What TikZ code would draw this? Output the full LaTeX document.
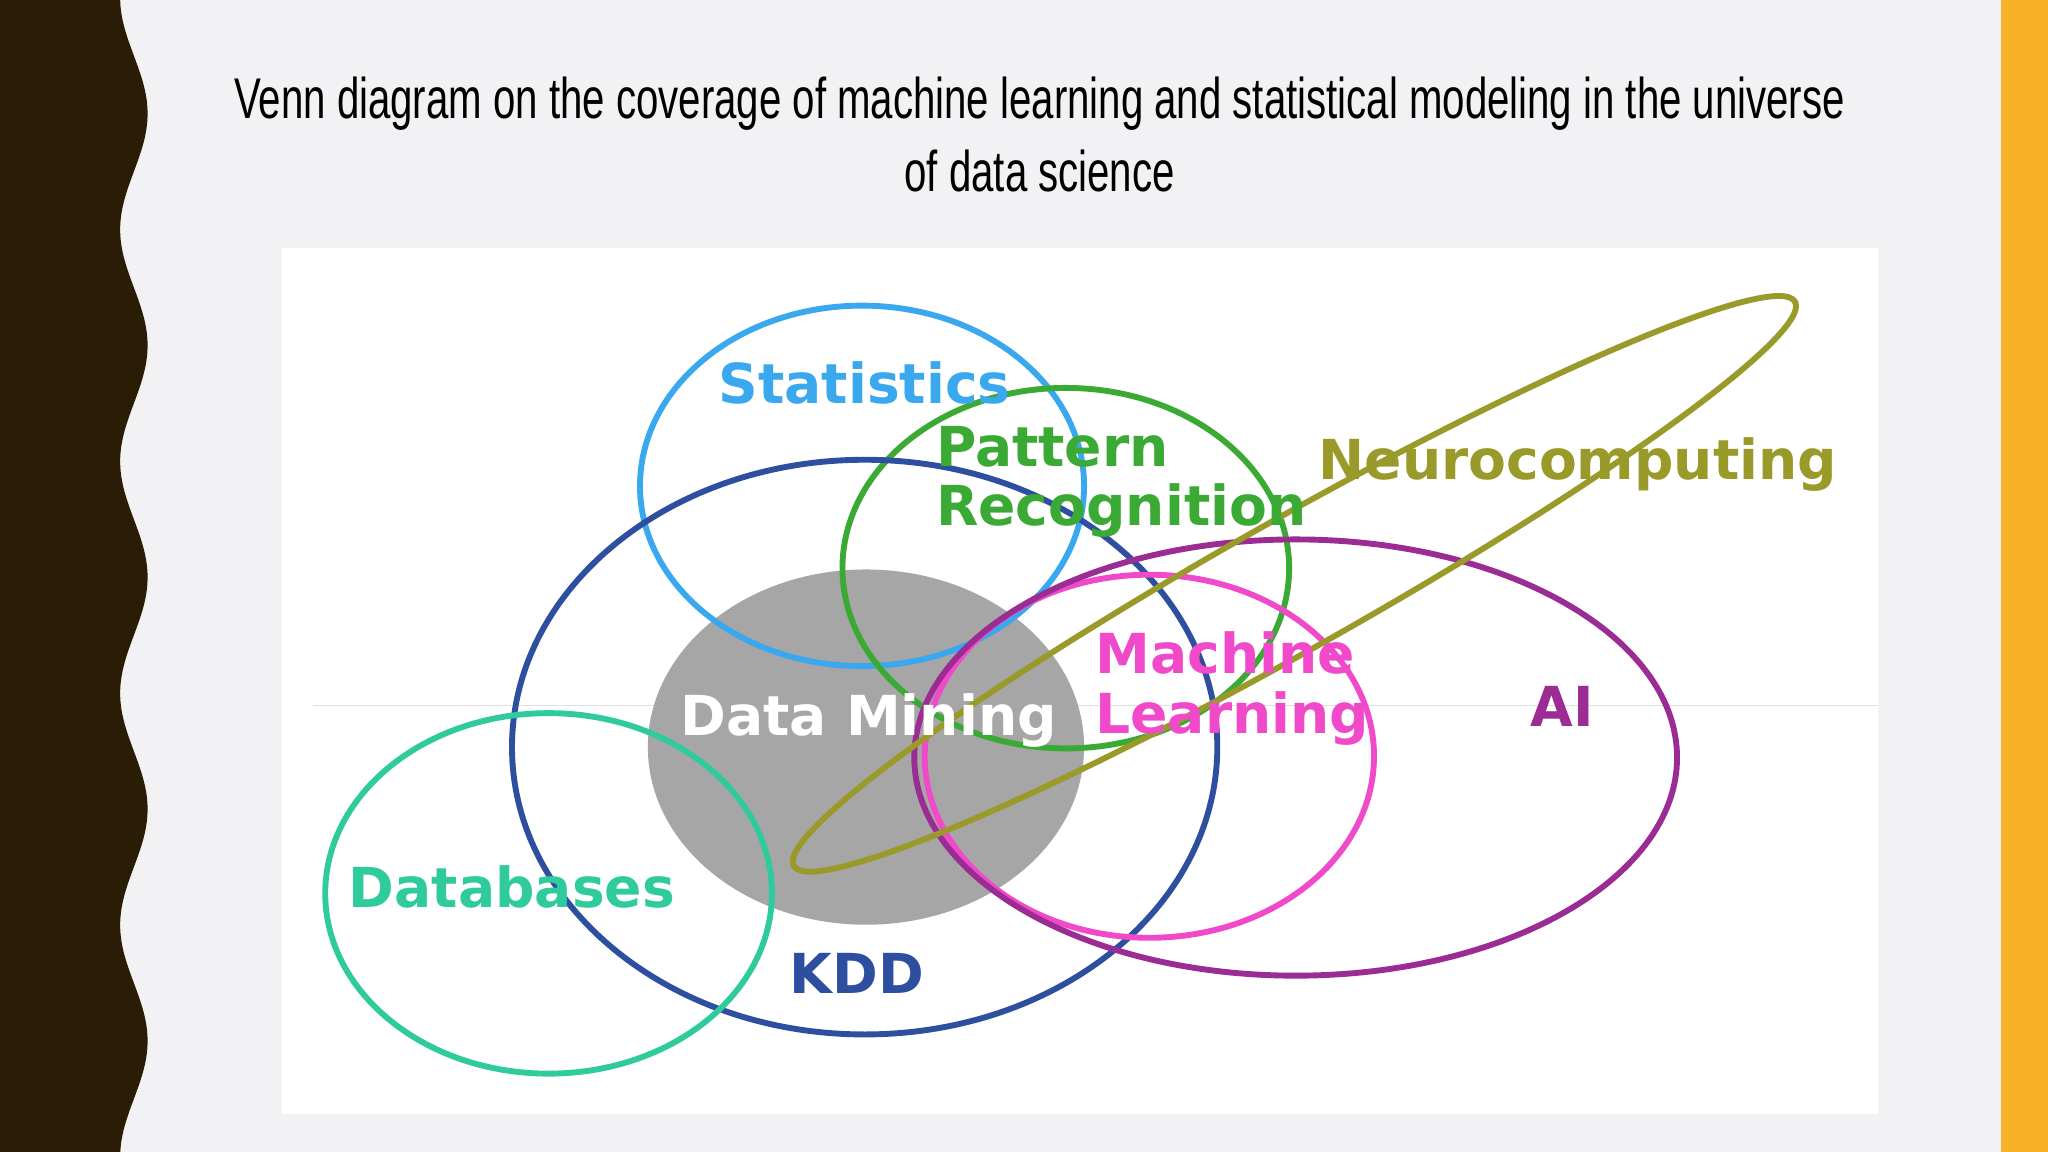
\documentclass[tikz,border=0pt]{standalone}
\usepackage{fontspec}
\setmainfont{Liberation Sans}
\newfontfamily\vfont{DejaVu Sans}
\definecolor{bg}{HTML}{F2F2F4}
\definecolor{brown}{HTML}{2B1D05}
\definecolor{orng}{HTML}{F9B128}
\definecolor{cstat}{HTML}{3AA8EE}
\definecolor{cpat}{HTML}{3AAA35}
\definecolor{ckdd}{HTML}{2E4FA0}
\definecolor{cdm}{HTML}{A6A6A6}
\definecolor{cdb}{HTML}{2FCB9D}
\definecolor{cml}{HTML}{F04ACB}
\definecolor{cai}{HTML}{9B2C93}
\definecolor{cneu}{HTML}{9A9A2A}
\tikzset{ring/.style={line width=0.045cm},
 lab/.style={font=\vfont\bfseries\fontsize{12}{13}\selectfont, inner sep=0pt}}
\begin{document}
\begin{tikzpicture}[x=0.01cm,y=-0.01cm]
\useasboundingbox (0,0) rectangle (1568,882);
\fill[bg] (0,0) rectangle (1568,882);
\fill[brown] (0,0) -- plot[domain=0:882,samples=200,smooth] ({102.5+10.5*cos(2.0282*(\x-87))},\x) -- (0,882) -- cycle;
\fill[orng] (1532,0) rectangle (1568,882);
\node[font=\fontsize{12.5}{16}\selectfont, align=center, xscale=0.7] (title) at (796,103) {Venn diagram on the coverage of machine learning and statistical modeling in the universe\\of data science};
\fill[white] (216,190) rectangle (1438,853);
\draw[black!12, line width=0.3pt] (240,540) -- (1438,540);
\fill[cdm] (663,572) ellipse [x radius=167, y radius=136];
\draw[ring,cstat] (660,372) ellipse [x radius=170, y radius=138];
\draw[ring,cpat] (816,435) ellipse [x radius=171, y radius=138];
\draw[ring,ckdd] (662,572) ellipse [x radius=270, y radius=220];
\draw[ring,cdb] (420,684) ellipse [x radius=171, y radius=138];
\draw[ring,cml] (880,579) ellipse [x radius=172, y radius=139];
\draw[ring,cai] (992,580) ellipse [x radius=292, y radius=167];
\draw[ring,cneu] (991,447) ellipse [x radius=440, y radius=50, rotate=29.4];
\node[lab,cstat] (stat) at (662,293) {Statistics};
\node[lab,cpat,align=left,anchor=west] (pat) at (716,369) {Pattern\\Recognition};
\node[lab,cneu] (neu) at (1208,356) {Neurocomputing};
\node[lab,white] (dm) at (665,552) {Data Mining};
\node[lab,cml,align=left,anchor=west] (ml) at (838,527) {Machine\\Learning};
\node[lab,cai] (ai) at (1196,541) {AI};
\node[lab,cdb] (db) at (392,679) {Databases};
\node[lab,ckdd] (kdd) at (656,745) {KDD};
\end{tikzpicture}
\end{document}
